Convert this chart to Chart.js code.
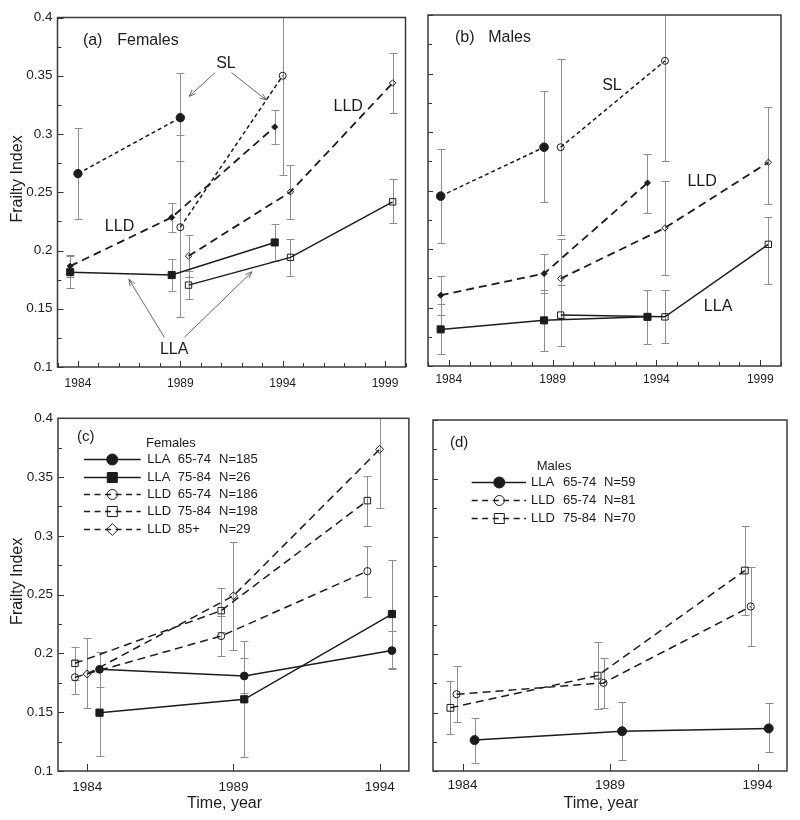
<!DOCTYPE html>
<html>
<head>
<meta charset="utf-8">
<title>Frailty Index</title>
<script src="https://cdn.jsdelivr.net/npm/chart.js@4.4.1/dist/chart.umd.min.js"></script>
<style>
  html, body { margin: 0; padding: 0; background: #ffffff; }
  #wrap { position: relative; width: 800px; height: 820px; overflow: hidden; background:#fff; }
  #wrap canvas { position: absolute; }
</style>
</head>
<body>
<div id="wrap">
  <canvas id="chartA" width="415" height="400" style="left:0px;top:0px;"></canvas>
  <canvas id="chartB" width="385" height="400" style="left:415px;top:0px;"></canvas>
  <canvas id="chartC" width="415" height="420" style="left:0px;top:400px;"></canvas>
  <canvas id="chartD" width="385" height="420" style="left:415px;top:400px;"></canvas>
</div>
<script>
// ---------------- tick arrays ----------------
const yTickValues = [0.1, 0.125, 0.15, 0.175, 0.2, 0.225, 0.25, 0.275, 0.3, 0.325, 0.35, 0.375, 0.4];
const yTickLabels = ['0.1', '', '0.15', '', '0.2', '', '0.25', '', '0.3', '', '0.35', '', '0.4'];
const xTicksTop = [1983, 1984, 1985, 1986, 1987, 1988, 1989, 1990, 1991, 1992, 1993, 1994, 1995, 1996, 1997, 1998, 1999, 2000];
const xLabelsTop = [1984, 1989, 1994, 1999];
const xTicksBottom = [1984, 1989, 1994];
const xLabelsBottom = [1984, 1989, 1994];

// ---------------- panel (a) Females ----------------
const aSLfX = [1984.0, 1989.0];
const aSLfY = [0.266, 0.314];
const aSLfLo = [0.227, 0.277];
const aSLfHi = [0.305, 0.352];

const aSLoX = [1989.0, 1994.0];
const aSLoY = [0.220, 0.350];
const aSLoLo = [0.143, 0.265];
const aSLoHi = [0.2995, 0.435];

const aLLDfX = [1983.62, 1988.58, 1993.61];
const aLLDfY = [0.1866, 0.2284, 0.3061];
const aLLDfLo = [0.177, 0.2158, 0.2912];
const aLLDfHi = [0.196, 0.2404, 0.321];

const aLLDoX = [1989.4, 1994.38, 1999.37];
const aLLDoY = [0.1952, 0.2503, 0.3438];
const aLLDoLo = [0.1774, 0.2269, 0.3176];
const aLLDoHi = [0.2129, 0.2732, 0.3696];

const aLLAfX = [1983.62, 1988.58, 1993.61];
const aLLAfY = [0.1814, 0.1789, 0.2069];
const aLLAfLo = [0.1677, 0.1654, 0.1912];
const aLLAfHi = [0.195, 0.1929, 0.2226];

const aLLAoX = [1989.4, 1994.38, 1999.37];
const aLLAoY = [0.1703, 0.1941, 0.2418];
const aLLAoLo = [0.158, 0.1783, 0.2232];
const aLLAoHi = [0.1826, 0.2095, 0.261];

// ---------------- panel (b) Males ----------------
const bSLfX = [1983.61, 1988.59];
const bSLfY = [0.2452, 0.287];
const bSLfLo = [0.2054, 0.240];
const bSLfHi = [0.2855, 0.3347];

const bSLoX = [1989.39, 1994.41];
const bSLoY = [0.287, 0.3608];
const bSLoLo = [0.2117, 0.2756];
const bSLoHi = [0.3628, 0.445];

const bLLDfX = [1983.61, 1988.59, 1993.57];
const bLLDfY = [0.1605, 0.179, 0.2565];
const bLLDfLo = [0.144, 0.162, 0.231];
const bLLDfHi = [0.1767, 0.196, 0.281];

const bLLDoX = [1989.39, 1994.41, 1999.39];
const bLLDoY = [0.1747, 0.218, 0.2741];
const bLLDoLo = [0.1406, 0.1776, 0.2386];
const bLLDoHi = [0.2088, 0.2577, 0.3216];

const bLLAfX = [1983.61, 1988.59, 1993.57];
const bLLAfY = [0.1313, 0.139, 0.142];
const bLLAfLo = [0.110, 0.1128, 0.1188];
const bLLAfHi = [0.1528, 0.165, 0.1653];

const bLLAoX = [1989.39, 1994.41, 1999.39];
const bLLAoY = [0.1435, 0.142, 0.204];
const bLLAoLo = [0.1173, 0.120, 0.170];
const bLLAoHi = [0.169, 0.1648, 0.2273];

// ---------------- panel (c) Females by age ----------------
const cLLA6574X = [1984.42, 1989.37, 1994.42];
const cLLA6574Y = [0.1865, 0.1808, 0.2024];
const cLLA6574Lo = [0.1717, 0.166, 0.187];
const cLLA6574Hi = [0.2015, 0.196, 0.219];

const cLLA7584X = [1984.42, 1989.37, 1994.42];
const cLLA7584Y = [0.1496, 0.161, 0.2335];
const cLLA7584Lo = [0.1128, 0.1116, 0.188];
const cLLA7584Hi = [0.187, 0.2106, 0.2795];

const cLLD6574X = [1983.58, 1988.58, 1993.58];
const cLLD6574Y = [0.1797, 0.2148, 0.270];
const cLLD6574Lo = [0.1655, 0.198, 0.2483];
const cLLD6574Hi = [0.194, 0.232, 0.2917];

const cLLD7584X = [1983.58, 1988.58, 1993.58];
const cLLD7584Y = [0.1916, 0.2364, 0.330];
const cLLD7584Lo = [0.177, 0.218, 0.3084];
const cLLD7584Hi = [0.2058, 0.256, 0.351];

const cLLD85X = [1984.0, 1989.0, 1994.0];
const cLLD85Y = [0.1825, 0.249, 0.3736];
const cLLD85Lo = [0.1533, 0.2027, 0.324];
const cLLD85Hi = [0.2128, 0.295, 0.423];

const cLegendGroup = ['LLA', 'LLA', 'LLD', 'LLD', 'LLD'];
const cLegendAge = ['65-74', '75-84', '65-74', '75-84', '85+'];
const cLegendN = ['N=185', 'N=26', 'N=186', 'N=198', 'N=29'];

// ---------------- panel (d) Males by age ----------------
const dLLA6574X = [1984.41, 1989.41, 1994.38];
const dLLA6574Y = [0.1264, 0.134, 0.1364];
const dLLA6574Lo = [0.107, 0.109, 0.116];
const dLLA6574Hi = [0.1455, 0.159, 0.1577];

const dLLD6574X = [1983.80, 1988.78, 1993.77];
const dLLD6574Y = [0.1656, 0.1753, 0.2406];
const dLLD6574Lo = [0.1418, 0.154, 0.2065];
const dLLD6574Hi = [0.1895, 0.197, 0.2747];

const dLLD7584X = [1983.59, 1988.58, 1993.57];
const dLLD7584Y = [0.154, 0.1815, 0.2713];
const dLLD7584Lo = [0.1318, 0.1526, 0.2335];
const dLLD7584Hi = [0.1767, 0.2102, 0.3094];

const dLegendGroup = ['LLA', 'LLD', 'LLD'];
const dLegendAge = ['65-74', '65-74', '75-84'];
const dLegendN = ['N=59', 'N=81', 'N=70'];

// ---------------- helpers ----------------
const FONT = "'Liberation Sans', Arial, Helvetica, sans-serif";
const INK = '#1c1c1c';
const OPEN = 'rgba(255,255,255,0)';
const NB = '\u00a0';

function mk(xs, ys, lo, hi, st) {
  const base = {
    data: xs.map((x, i) => ({ x: x, y: ys[i] })),
    errLo: lo, errHi: hi,
    borderColor: INK, borderWidth: 1.5, borderDash: [],
    pointBorderColor: INK, pointBorderWidth: 1,
    pointBackgroundColor: INK, pointStyle: 'circle', pointRadius: 4,
    pointHoverRadius: 4, tension: 0, fill: false, showLine: true
  };
  return Object.assign(base, st);
}

const errorBars = {
  id: 'errorBars',
  beforeDatasetsDraw(chart) {
    const { ctx, chartArea: ca } = chart;
    const xs = chart.scales.x, ys = chart.scales.y;
    ctx.save();
    ctx.beginPath();
    ctx.rect(ca.left, ca.top, ca.right - ca.left, ca.bottom - ca.top);
    ctx.clip();
    ctx.strokeStyle = '#8e8e8e';
    ctx.lineWidth = 1;
    chart.data.datasets.forEach(ds => {
      if (!ds.errLo) return;
      ds.data.forEach((p, i) => {
        const px = Math.round(xs.getPixelForValue(p.x)) + 0.5;
        const yl = Math.round(ys.getPixelForValue(ds.errLo[i])) + 0.5;
        const yh = Math.round(ys.getPixelForValue(ds.errHi[i])) + 0.5;
        ctx.beginPath();
        ctx.moveTo(px, yl); ctx.lineTo(px, yh);
        ctx.moveTo(px - 4, yl); ctx.lineTo(px + 4, yl);
        ctx.moveTo(px - 4, yh); ctx.lineTo(px + 4, yh);
        ctx.stroke();
      });
    });
    ctx.restore();
  }
};

function drawMarker(ctx, kind, x, y, s, filled) {
  ctx.beginPath();
  if (kind === 'circle') ctx.arc(x, y, s, 0, Math.PI * 2);
  else if (kind === 'rect') ctx.rect(x - s, y - s, 2 * s, 2 * s);
  else { ctx.moveTo(x, y - s); ctx.lineTo(x + s, y); ctx.lineTo(x, y + s); ctx.lineTo(x - s, y); ctx.closePath(); }
  if (filled) ctx.fill();
  ctx.stroke();
}

function drawArrow(ctx, x1, y1, x2, y2) {
  ctx.beginPath(); ctx.moveTo(x1, y1); ctx.lineTo(x2, y2); ctx.stroke();
  const a = Math.atan2(y2 - y1, x2 - x1), L = 7, w = 0.38;
  ctx.beginPath();
  ctx.moveTo(x2 - L * Math.cos(a - w), y2 - L * Math.sin(a - w));
  ctx.lineTo(x2, y2);
  ctx.lineTo(x2 - L * Math.cos(a + w), y2 - L * Math.sin(a + w));
  ctx.stroke();
}

function makeDecor(c) {
  return {
    id: 'decor',
    afterDraw(chart) {
      const { ctx, chartArea: ca } = chart;
      const xs = chart.scales.x, ys = chart.scales.y;
      ctx.save();
      // inward ticks
      ctx.strokeStyle = '#333'; ctx.lineWidth = 1;
      ys.ticks.forEach(t => {
        const py = Math.round(ys.getPixelForValue(t.value)) + 0.5;
        const major = Math.round(t.value * 40) % 2 === 0;
        ctx.beginPath();
        ctx.moveTo(ca.left, py); ctx.lineTo(ca.left + (major ? c.yMajIn : c.yMinIn), py);
        ctx.stroke();
      });
      xs.ticks.forEach(t => {
        const px = Math.round(xs.getPixelForValue(t.value)) + 0.5;
        const major = c.xLabels.indexOf(t.value) >= 0;
        ctx.beginPath();
        ctx.moveTo(px, ca.bottom); ctx.lineTo(px, ca.bottom - (major ? c.xMajIn : c.xIn));
        ctx.stroke();
      });
      // frame
      ctx.strokeStyle = '#3a3a3a'; ctx.lineWidth = 1.5;
      ctx.strokeRect(ca.left, ca.top, ca.right - ca.left, ca.bottom - ca.top);
      // text notes (data coordinates)
      ctx.fillStyle = INK; ctx.textBaseline = 'middle';
      (c.texts || []).forEach(n => {
        ctx.font = n.size + 'px ' + FONT;
        ctx.textAlign = n.align || 'center';
        ctx.fillText(n.t, xs.getPixelForValue(n.x), ys.getPixelForValue(n.y));
      });
      // arrows (data coordinates)
      ctx.strokeStyle = '#5a5a5a'; ctx.lineWidth = 0.9;
      (c.arrows || []).forEach(a => {
        drawArrow(ctx, xs.getPixelForValue(a[0]), ys.getPixelForValue(a[1]),
                       xs.getPixelForValue(a[2]), ys.getPixelForValue(a[3]));
      });
      // in-plot legend (pixel offsets from the plot corner)
      if (c.legend) {
        const L = c.legend;
        ctx.fillStyle = INK; ctx.textAlign = 'left'; ctx.textBaseline = 'middle';
        ctx.font = '15px ' + FONT;
        ctx.fillText(L.panel, ca.left + L.panelDx, ca.top + L.panelDy);
        ctx.font = '13px ' + FONT;
        ctx.fillText(L.title, ca.left + L.titleDx, ca.top + L.titleDy);
        chart.data.datasets.forEach((ds, i) => {
          const y = Math.round(ca.top + L.row0 + i * L.rowStep) + 0.5;
          ctx.strokeStyle = INK; ctx.lineWidth = 1.5;
          ctx.setLineDash(ds.borderDash && ds.borderDash.length ? [6, 4.5] : []);
          ctx.beginPath();
          ctx.moveTo(ca.left + L.line0, y); ctx.lineTo(ca.left + L.line1, y);
          ctx.stroke();
          ctx.setLineDash([]);
          ctx.lineWidth = 1; ctx.fillStyle = INK;
          const kind = ds.pointStyle === 'rectRot' ? 'diamond' : ds.pointStyle;
          const filled = ds.pointBackgroundColor !== OPEN;
          const s = kind === 'circle' ? (filled ? 5.5 : 5) : (kind === 'rect' ? 5 : 6);
          drawMarker(ctx, kind, ca.left + L.marker, y, s, filled);
          ctx.fillStyle = INK;
          ctx.fillText(L.group[i], ca.left + L.col1, y);
          ctx.fillText(L.age[i], ca.left + L.col2, y);
          ctx.fillText(L.n[i], ca.left + L.col3, y);
        });
      }
      ctx.restore();
    }
  };
}

function build(id, datasets, c) {
  return new Chart(document.getElementById(id), {
    type: 'line',
    data: { datasets: datasets },
    options: {
      responsive: false, maintainAspectRatio: false, animation: false, devicePixelRatio: 1,
      events: [],
      layout: { padding: { left: 0, top: c.padTop, right: c.padRight, bottom: 0 } },
      plugins: { legend: { display: false }, tooltip: { enabled: false } },
      scales: {
        x: {
          type: 'linear', min: c.xMin, max: c.xMax,
          grid: { display: false, drawTicks: false }, border: { display: false },
          afterBuildTicks: s => { s.ticks = c.xTicks.map(v => ({ value: v })); },
          ticks: {
            autoSkip: false, maxRotation: 0, minRotation: 0, padding: c.xPad, color: INK,
            font: { family: FONT, size: c.xFont },
            callback: v => (c.xLabels.indexOf(v) >= 0 ? String(v) : '')
          },
          title: {
            display: !!c.xTitle, text: c.xTitle || '', color: INK,
            font: { family: FONT, size: 16 }, padding: { top: 0, bottom: 7 }
          },
          afterFit: s => { s.height = c.xH; }
        },
        y: {
          type: 'linear', min: 0.1, max: 0.4,
          grid: { display: false, drawTicks: false }, border: { display: false },
          afterBuildTicks: s => { s.ticks = yTickValues.map(v => ({ value: v })); },
          ticks: {
            display: c.yLabels, autoSkip: false, padding: 5, color: INK,
            font: { family: FONT, size: 13.5 },
            callback: v => {
              const k = yTickValues.findIndex(t => Math.abs(t - v) < 1e-9);
              return k >= 0 ? yTickLabels[k] : '';
            }
          },
          title: {
            display: !!c.yTitle, text: c.yTitle || '', color: INK,
            font: { family: FONT, size: 16 }, padding: { top: 7.5, bottom: 0 }
          },
          afterFit: s => { s.width = c.yW; }
        }
      }
    },
    plugins: [errorBars, makeDecor(c)]
  });
}

const SHORT = [4, 3];
const LONG = [8, 5];
const yTitleText = NB.repeat(6) + 'Frailty Index';
const xTitleText = 'Time, year' + NB.repeat(4);

// ---------------- panel (a) ----------------
build('chartA', [
  mk(aSLfX, aSLfY, aSLfLo, aSLfHi, { borderDash: SHORT, pointStyle: 'circle', pointRadius: 4.2 }),
  mk(aSLoX, aSLoY, aSLoLo, aSLoHi, { borderDash: SHORT, pointStyle: 'circle', pointRadius: 3.5, pointBackgroundColor: OPEN }),
  mk(aLLDfX, aLLDfY, aLLDfLo, aLLDfHi, { borderDash: LONG, borderWidth: 1.8, pointStyle: 'rectRot', pointRadius: 3 }),
  mk(aLLDoX, aLLDoY, aLLDoLo, aLLDoHi, { borderDash: LONG, borderWidth: 1.8, pointStyle: 'rectRot', pointRadius: 3.2, pointBackgroundColor: OPEN }),
  mk(aLLAfX, aLLAfY, aLLAfLo, aLLAfHi, { pointStyle: 'rect', pointRadius: 5 }),
  mk(aLLAoX, aLLAoY, aLLAoLo, aLLAoHi, { pointStyle: 'rect', pointRadius: 4.5, pointBackgroundColor: OPEN })
], {
  padTop: 17.5, padRight: 7, yW: 57.5, xH: 33, xMin: 1983, xMax: 2000, xFont: 12, xPad: 9.5,
  xTicks: xTicksTop, xLabels: xLabelsTop, yLabels: true, yTitle: yTitleText,
  yMinIn: 4, yMajIn: 6, xIn: 4, xMajIn: 6,
  texts: [
    { t: '(a)', x: 1984.24, y: 0.3804, size: 16, align: 'left' },
    { t: 'Females', x: 1985.92, y: 0.3804, size: 16, align: 'left' },
    { t: 'SL', x: 1991.23, y: 0.3607, size: 16 },
    { t: 'LLD', x: 1986.03, y: 0.2201, size: 16 },
    { t: 'LLD', x: 1997.2, y: 0.3238, size: 16 },
    { t: 'LLA', x: 1988.7, y: 0.1146, size: 16 }
  ],
  arrows: [
    [1990.7, 0.3527, 1989.43, 0.3324],
    [1991.5, 0.3527, 1993.2, 0.3292],
    [1988.22, 0.1255, 1986.49, 0.1752],
    [1989.2, 0.1255, 1992.5, 0.1817]
  ]
});

// ---------------- panel (b) ----------------
build('chartB', [
  mk(bSLfX, bSLfY, bSLfLo, bSLfHi, { borderDash: SHORT, pointStyle: 'circle', pointRadius: 4.3 }),
  mk(bSLoX, bSLoY, bSLoLo, bSLoHi, { borderDash: SHORT, pointStyle: 'circle', pointRadius: 3.5, pointBackgroundColor: OPEN }),
  mk(bLLDfX, bLLDfY, bLLDfLo, bLLDfHi, { borderDash: LONG, borderWidth: 1.8, pointStyle: 'rectRot', pointRadius: 3 }),
  mk(bLLDoX, bLLDoY, bLLDoLo, bLLDoHi, { borderDash: LONG, borderWidth: 1.8, pointStyle: 'rectRot', pointRadius: 3.2, pointBackgroundColor: OPEN }),
  mk(bLLAfX, bLLAfY, bLLAfLo, bLLAfHi, { pointStyle: 'rect', pointRadius: 5 }),
  mk(bLLAoX, bLLAoY, bLLAoLo, bLLAoHi, { pointStyle: 'rect', pointRadius: 4.5, pointBackgroundColor: OPEN })
], {
  padTop: 15, padRight: 19, yW: 13, xH: 34, xMin: 1983, xMax: 2000, xFont: 12, xPad: 6.5,
  xTicks: xTicksTop, xLabels: xLabelsTop, yLabels: false,
  yMinIn: 4, yMajIn: 5, xIn: 4, xMajIn: 6,
  texts: [
    { t: '(b)', x: 1984.3, y: 0.3803, size: 16, align: 'left' },
    { t: 'Males', x: 1985.9, y: 0.3803, size: 16, align: 'left' },
    { t: 'SL', x: 1991.86, y: 0.340, size: 16 },
    { t: 'LLD', x: 1996.2, y: 0.2573, size: 16 },
    { t: 'LLA', x: 1996.97, y: 0.1504, size: 16 }
  ],
  arrows: []
});

// ---------------- panel (c) ----------------
build('chartC', [
  mk(cLLA6574X, cLLA6574Y, cLLA6574Lo, cLLA6574Hi, { pointStyle: 'circle', pointRadius: 3.9 }),
  mk(cLLA7584X, cLLA7584Y, cLLA7584Lo, cLLA7584Hi, { pointStyle: 'rect', pointRadius: 5.1 }),
  mk(cLLD6574X, cLLD6574Y, cLLD6574Lo, cLLD6574Hi, { borderDash: LONG, pointStyle: 'circle', pointRadius: 3.6, pointBackgroundColor: OPEN }),
  mk(cLLD7584X, cLLD7584Y, cLLD7584Lo, cLLD7584Hi, { borderDash: LONG, pointStyle: 'rect', pointRadius: 4.6, pointBackgroundColor: OPEN }),
  mk(cLLD85X, cLLD85Y, cLLD85Lo, cLLD85Hi, { borderDash: LONG, pointStyle: 'rectRot', pointRadius: 4, pointBackgroundColor: OPEN })
], {
  padTop: 18.3, padRight: 2, yW: 58, xH: 49, xMin: 1983, xMax: 1995, xFont: 13.5, xPad: 8,
  xTicks: xTicksBottom, xLabels: xLabelsBottom, yLabels: true, yTitle: yTitleText, xTitle: xTitleText,
  yMinIn: 4, yMajIn: 6, xIn: 7, xMajIn: 7,
  legend: {
    panel: '(c)', panelDx: 19, panelDy: 18.7,
    title: 'Females', titleDx: 88, titleDy: 24.7,
    row0: 41, rowStep: 17.35, line0: 26, line1: 82.7, marker: 54.3,
    col1: 89.3, col2: 119.7, col3: 161,
    group: cLegendGroup, age: cLegendAge, n: cLegendN
  }
});

// ---------------- panel (d) ----------------
build('chartD', [
  mk(dLLA6574X, dLLA6574Y, dLLA6574Lo, dLLA6574Hi, { pointStyle: 'circle', pointRadius: 4.5 }),
  mk(dLLD6574X, dLLD6574Y, dLLD6574Lo, dLLD6574Hi, { borderDash: LONG, pointStyle: 'circle', pointRadius: 3.6, pointBackgroundColor: OPEN }),
  mk(dLLD7584X, dLLD7584Y, dLLD7584Lo, dLLD7584Hi, { borderDash: LONG, pointStyle: 'rect', pointRadius: 4.8, pointBackgroundColor: OPEN })
], {
  padTop: 20, padRight: 13, yW: 18, xH: 49, xMin: 1983, xMax: 1995, xFont: 13.5, xPad: 6.5,
  xTicks: xTicksBottom, xLabels: xLabelsBottom, yLabels: false, xTitle: xTitleText,
  yMinIn: 4, yMajIn: 5, xIn: 7, xMajIn: 7,
  legend: {
    panel: '(d)', panelDx: 17, panelDy: 23,
    title: 'Males', titleDx: 103.7, titleDy: 46,
    row0: 61.7, rowStep: 18.1, line0: 38.7, line1: 93, marker: 66.3,
    col1: 98, col2: 130, col3: 171,
    group: dLegendGroup, age: dLegendAge, n: dLegendN
  }
});
</script>
</body>
</html>
